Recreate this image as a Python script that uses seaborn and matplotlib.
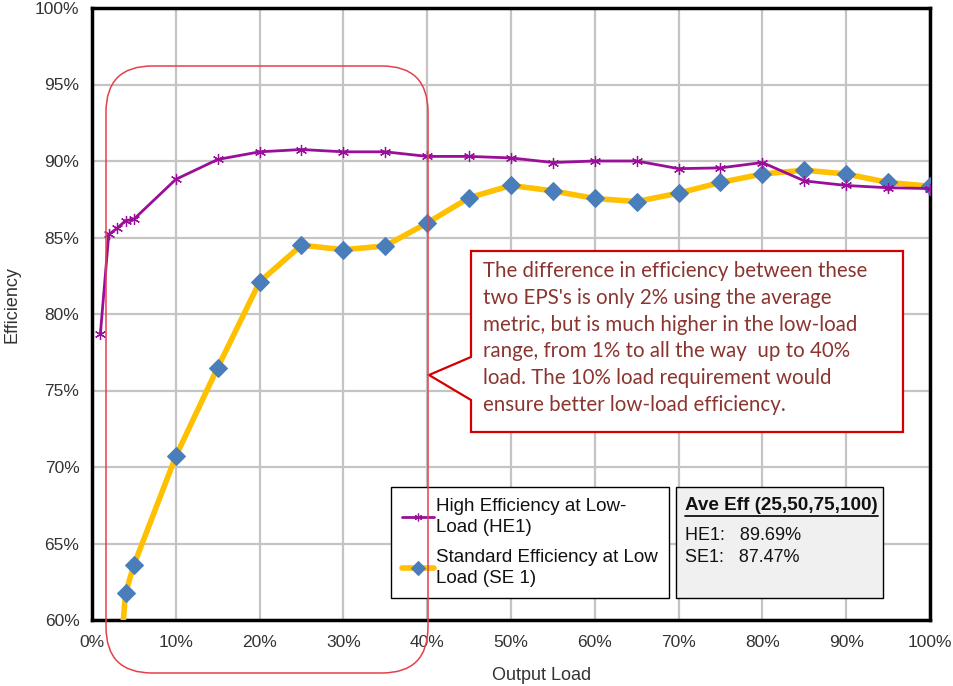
import matplotlib
matplotlib.use('Agg')
import matplotlib.pyplot as plt
import matplotlib.ticker as mticker
from matplotlib.patches import FancyBboxPatch, Polygon, Rectangle
from matplotlib.lines import Line2D
from matplotlib.transforms import IdentityTransform
import seaborn as sns

# Data
load_he = [1, 2, 3, 4, 5, 10, 15, 20, 25, 30, 35, 40, 45, 50, 55, 60, 65, 70, 75, 80, 85, 90, 95, 100]
eff_he = [78.7, 85.2, 85.6, 86.1, 86.2, 88.8, 90.1, 90.6, 90.75, 90.6, 90.6, 90.3, 90.3, 90.2, 89.9, 90.0,
          90.0, 89.5, 89.55, 89.9, 88.7, 88.4, 88.25, 88.2]
load_se = [3, 4, 5, 10, 15, 20, 25, 30, 35, 40, 45, 50, 55, 60, 65, 70, 75, 80, 85, 90, 95, 100]
eff_se = [55.0, 61.75, 63.6, 70.7, 76.5, 82.1, 84.5, 84.2, 84.45, 85.95, 87.6, 88.4, 88.05, 87.55, 87.35,
          87.9, 88.6, 89.15, 89.4, 89.15, 88.6, 88.35]

label_he = 'High Efficiency at Low-\nLoad (HE1)'
label_se = 'Standard Efficiency at Low\nLoad (SE 1)'
ave_title = 'Ave Eff (25,50,75,100)'
ave_lines = ['HE1:   89.69%', 'SE1:   87.47%']
note_lines = [
    "The difference in efficiency between these",
    "two EPS's is only 2% using the average",
    "metric, but is much higher in the low-load",
    "range, from 1% to all the way  up to 40%",
    "load. The 10% load requirement would",
    "ensure better low-load efficiency.",
]

purple = '#990F99'
yellow = '#FFC000'
blue = '#4A7EBB'
tick_color = '#333333'

sns.set_style('white')
plt.rcParams['font.family'] = ['Liberation Sans', 'DejaVu Sans']

W, H = 954, 686
fig = plt.figure(figsize=(W / 100, H / 100), dpi=100)
ax = fig.add_axes([92 / W, (H - 620) / H, (930 - 92) / W, (620 - 8) / H])

sns.lineplot(x=load_he, y=eff_he, ax=ax, color=purple, lw=2, marker=(6, 2, 0), markersize=8,
             markeredgecolor=purple, markeredgewidth=0.9, legend=False, zorder=4)
sns.lineplot(x=load_se, y=eff_se, ax=ax, color=yellow, lw=4, marker='D', markersize=9.5,
             markerfacecolor=blue, markeredgecolor=blue, legend=False, zorder=3)

ax.set_xlim(0, 100)
ax.set_ylim(60, 100)
ax.xaxis.set_major_locator(mticker.MultipleLocator(10))
ax.yaxis.set_major_locator(mticker.MultipleLocator(5))
ax.xaxis.set_major_formatter(mticker.PercentFormatter(decimals=0))
ax.yaxis.set_major_formatter(mticker.PercentFormatter(decimals=0))
ax.grid(True, color='#c4c4c4', lw=1.6)
ax.set_axisbelow(True)
for s in ax.spines.values():
    s.set_color('black')
    s.set_linewidth(2.5)
ax.tick_params(axis='both', direction='out', length=5, width=2, color='black',
               labelsize=12.5, labelcolor=tick_color, pad=6)
ax.tick_params(axis='y', pad=4)
ax.set_xlabel('Output Load', fontsize=13, color=tick_color)
ax.set_ylabel('Efficiency', fontsize=13, color=tick_color)
ax.xaxis.set_label_coords(0.536, -0.077)
ax.yaxis.set_label_coords(-0.085, 0.515)

# legend
lines = ax.get_lines()
leg = ax.legend(handles=lines[:2], labels=[label_he, label_se], loc='upper left',
                bbox_to_anchor=(391 / W, 1 - 487 / H), bbox_transform=fig.transFigure,
                borderaxespad=0, fancybox=False, framealpha=1, edgecolor='black',
                fontsize=13.5, handlelength=1.7, handletextpad=0.1, borderpad=0.6,
                labelspacing=0.7, markerscale=0.7)
leg.get_frame().set_linewidth(1.0)
for t in leg.get_texts():
    t.set_color('#111111')
    t.set_linespacing(1.3)

ident = IdentityTransform()


def px(x, y):
    return (x, H - y)


# average efficiency box
fig.add_artist(Rectangle(px(676, 598), 883 - 676, 598 - 487, transform=ident,
                         facecolor='#f0f0f0', edgecolor='black', lw=1.0, zorder=2))
title = fig.text(685 / W, 1 - 506 / H, ave_title, fontsize=13.6, fontweight='bold',
                 va='center', ha='left', color='#111111', zorder=3)
for i, line in enumerate(ave_lines):
    fig.text(685 / W, 1 - (535 + 23 * i) / H, line, fontsize=13, va='center', ha='left',
             color='#111111', zorder=3)
fig.canvas.draw()
bb = title.get_window_extent()
fig.add_artist(Line2D([bb.x0, bb.x1], [bb.y0 - 1, bb.y0 - 1], transform=ident,
                      color='#111111', lw=1.3, zorder=3))

# callout with pointer
callout = [px(471, 251), px(903, 251), px(903, 432), px(471, 432), px(471, 400),
           px(429, 375), px(471, 357)]
fig.add_artist(Polygon(callout, closed=True, transform=ident, facecolor='white',
                       edgecolor='#d40000', lw=1.6, zorder=2))
for i, line in enumerate(note_lines):
    fig.text(483 / W, 1 - (271 + 26.8 * i) / H, line, fontsize=14.8, family='Lato',
             color='#8a3530', va='center', ha='left', zorder=3)

# rounded highlight around the low-load range
fig.add_artist(FancyBboxPatch(px(106, 673), 428 - 106, 673 - 66,
                              boxstyle='round,pad=0,rounding_size=46', transform=ident,
                              fill=False, edgecolor='#e5404a', lw=1.1, zorder=5))

fig.savefig('out.png', dpi=100)
